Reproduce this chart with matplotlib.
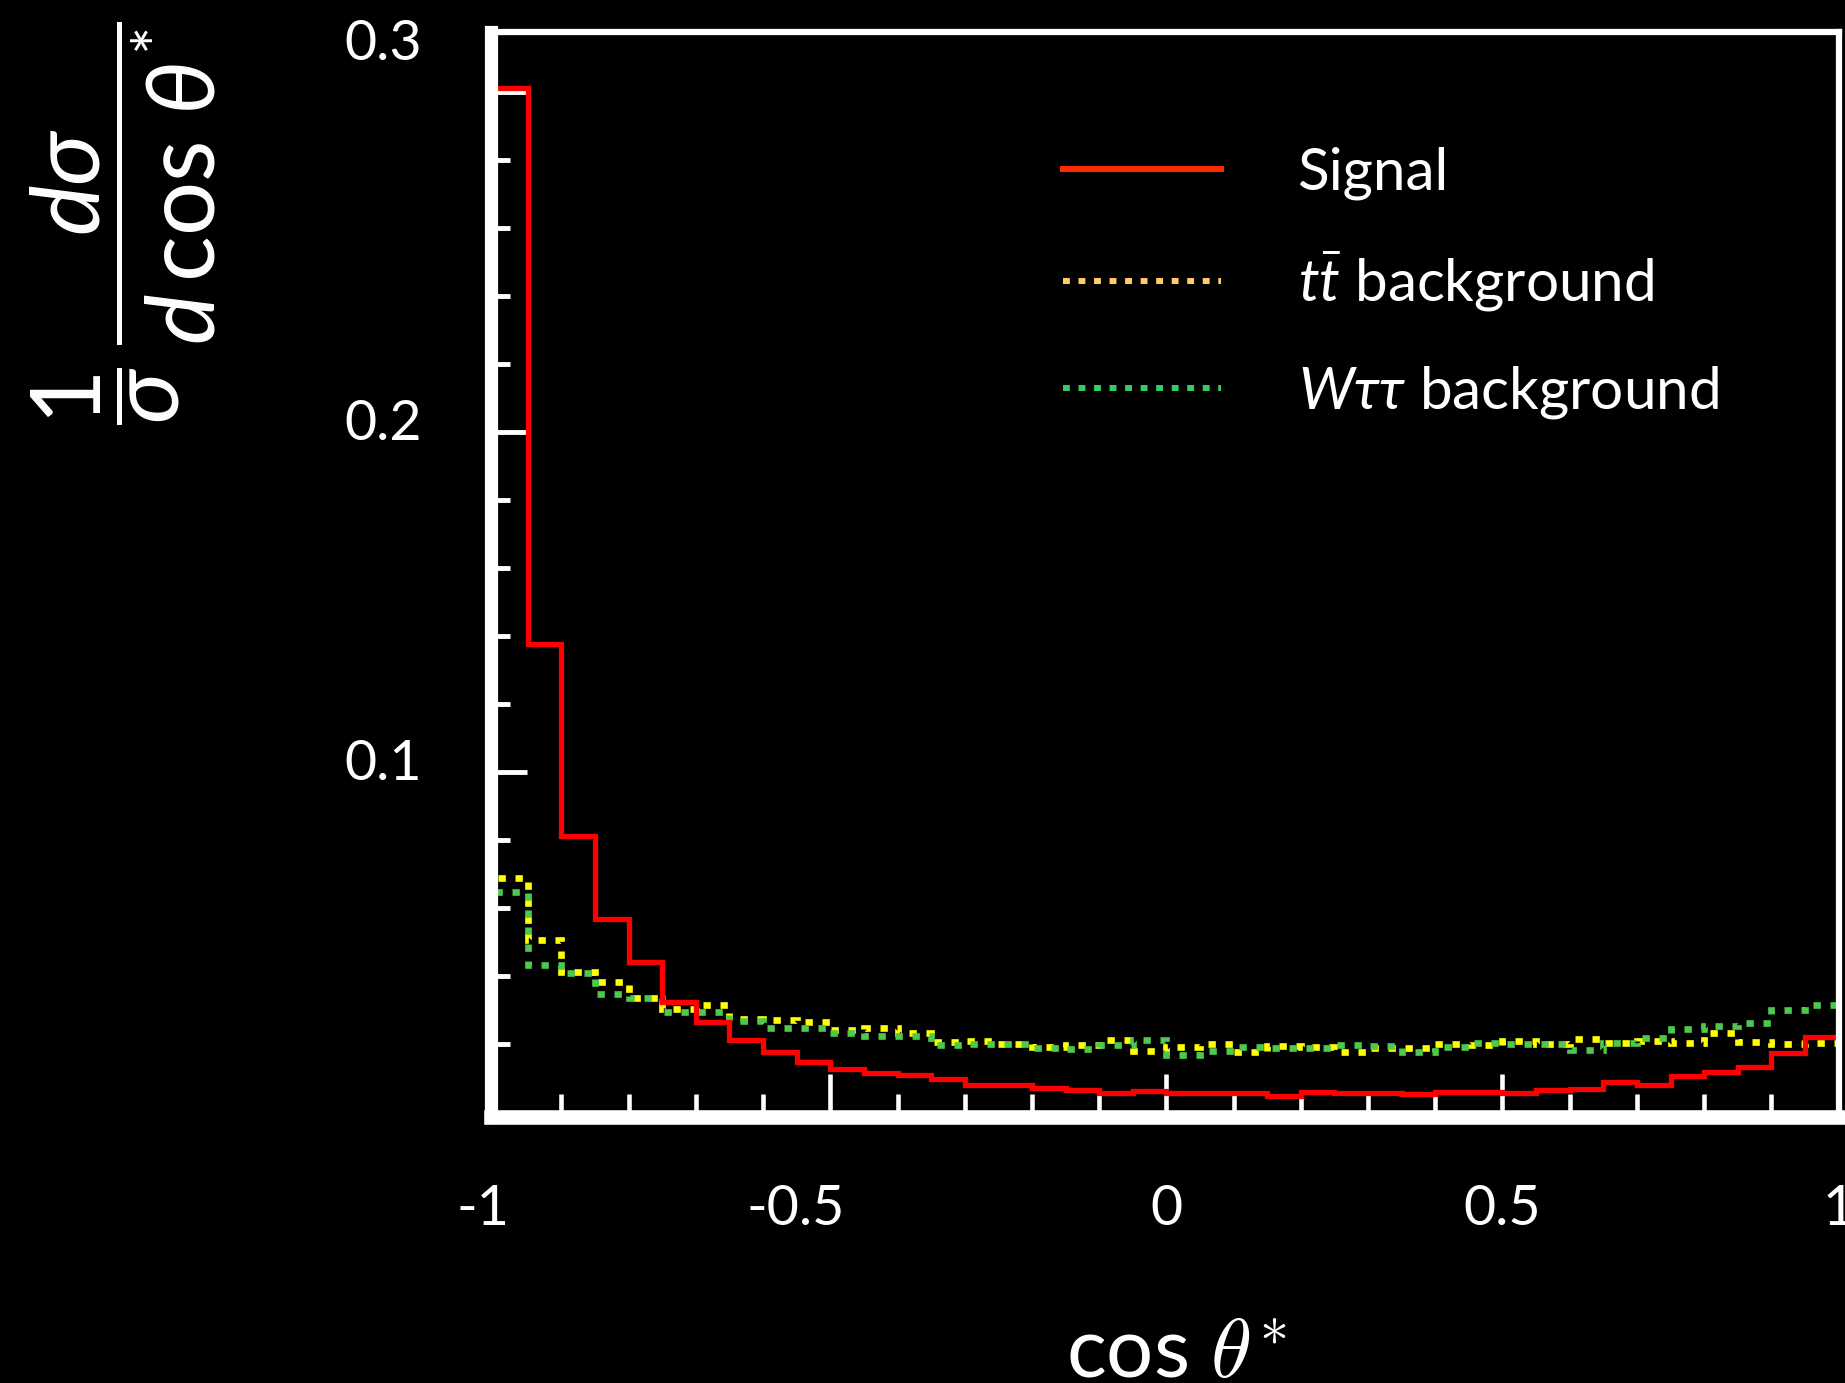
import numpy as np
import matplotlib
matplotlib.use("Agg")
import matplotlib.pyplot as plt
from matplotlib.lines import Line2D
from matplotlib.transforms import ScaledTranslation

plt.rcParams['font.family'] = ['Lato', 'DejaVu Sans']
plt.rcParams['mathtext.fontset'] = 'custom'
plt.rcParams['mathtext.rm'] = 'Lato'
plt.rcParams['mathtext.it'] = 'Lato:italic'
plt.rcParams['mathtext.bf'] = 'Lato:bold'
plt.rcParams['mathtext.sf'] = 'Lato'
plt.rcParams['axes.unicode_minus'] = False

# ---- data (normalised distributions, 40 bins of width 0.05 in cos theta*) ----
bin_edges = np.round(np.arange(-1.0, 1.0001, 0.05), 2)

signal = [0.301, 0.1376, 0.081, 0.0566, 0.0442, 0.0322, 0.0265, 0.0212, 0.0175, 0.0148,
          0.0125, 0.0113, 0.0109, 0.0097, 0.0079, 0.0078, 0.0071, 0.0063, 0.0055, 0.0060,
          0.0057, 0.0055, 0.0057, 0.0047, 0.0059, 0.0057, 0.0057, 0.0053, 0.0059, 0.0059,
          0.0057, 0.0065, 0.0067, 0.0087, 0.0079, 0.0107, 0.0117, 0.0133, 0.0174, 0.0221]

ttbar = [0.0687, 0.0506, 0.0410, 0.0383, 0.0334, 0.0302, 0.0315, 0.0273, 0.0271, 0.0263,
         0.0242, 0.0248, 0.0231, 0.0207, 0.0209, 0.0200, 0.0192, 0.0197, 0.0212, 0.0180,
         0.0192, 0.0200, 0.0177, 0.0195, 0.0192, 0.0177, 0.0187, 0.0189, 0.0199, 0.0196,
         0.0209, 0.0199, 0.0214, 0.0202, 0.0209, 0.0204, 0.0231, 0.0207, 0.0200, 0.0202]

wtautau = [0.0648, 0.0432, 0.0408, 0.0346, 0.0334, 0.0295, 0.0295, 0.0266, 0.0246, 0.0246,
           0.0231, 0.0224, 0.0224, 0.0197, 0.0200, 0.0200, 0.0189, 0.0184, 0.0197, 0.0210,
           0.0168, 0.0180, 0.0192, 0.0187, 0.0187, 0.0198, 0.0195, 0.0175, 0.0190, 0.0202,
           0.0201, 0.0201, 0.0182, 0.0202, 0.0217, 0.0243, 0.0253, 0.0261, 0.0300, 0.0315]

labels = ["Signal", r"$t\bar{t}$ background", r"$W\tau\tau$ background"]
xtick_vals = [-1, -0.5, 0, 0.5, 1]
xtick_labels = ["-1", "-0.5", "0", "0.5", "1"]
ytick_vals = [0.1, 0.2, 0.3]
ytick_labels = ["0.1", "0.2", ""]

# ---- figure ----
W, H = 1845, 1383
fig = plt.figure(figsize=(W / 100, H / 100), dpi=100, facecolor='black')
ax = fig.add_axes([491.5 / W, (H - 1117) / H, (1838.6 - 491.5) / W, (1117 - 32) / H])
ax.set_facecolor('black')

dot = (0, (1.1, 1.45))
ax.stairs(ttbar, bin_edges, color='#ffff00', lw=4.8, linestyle=dot, baseline=0, zorder=2.1)
ax.stairs(wtautau, bin_edges, color='#4dc94d', lw=4.8, linestyle=dot, baseline=0, zorder=2.2)
ax.stairs(signal, bin_edges, color='#ff0000', lw=3.8, baseline=0, zorder=2.3)

ax.set_xlim(-1.004, 1.0)
ax.set_ylim(-0.0015, 0.3176)

for side in ['left', 'right', 'top', 'bottom']:
    ax.spines[side].set_color('white')
    ax.spines[side].set_zorder(3)
ax.spines['left'].set_linewidth(9.5)
ax.spines['bottom'].set_linewidth(10.5)
ax.spines['top'].set_linewidth(4.5)
ax.spines['right'].set_linewidth(4.5)

ax.set_xticks(xtick_vals)
ax.set_xticklabels(xtick_labels)
ax.set_xticks(np.round(np.arange(-0.9, 1.0, 0.1), 2), minor=True)
ax.set_yticks(ytick_vals)
ax.set_yticklabels(ytick_labels)
ax.set_yticks(np.round(np.arange(0.02, 0.31, 0.02), 2), minor=True)

ax.tick_params(axis='x', which='major', direction='in', length=31, width=3.3,
               color='white', labelcolor='white', labelsize=40, pad=48.5)
ax.tick_params(axis='x', which='minor', direction='in', length=16.5, width=3.3, color='white')
ax.tick_params(axis='y', which='major', direction='in', length=26, width=3.5,
               color='white', labelcolor='white', labelsize=40, pad=50)
ax.tick_params(axis='y', which='minor', direction='in', length=14, width=3.5, color='white')
ax.tick_params(top=False, right=False, which='both')

off = ScaledTranslation(0, 12 / 100, fig.dpi_scale_trans)
for lab in ax.get_yticklabels():
    lab.set_transform(lab.get_transform() + off)
# shift of the negative x labels as in the reference
x_shift = {"-1": -11, "-0.5": -35}
for lab in ax.get_xticklabels():
    s = x_shift.get(lab.get_text(), 0)
    if s:
        lab.set_transform(lab.get_transform() + ScaledTranslation(s / 100, 0, fig.dpi_scale_trans))

fig.text(422 / W, 1 - 44 / H, "0.3", color='white', fontsize=40, ha='right', va='center')

# axis labels
fig.text(1176 / W, 5 / H, r"cos $\theta^{*}$", color='white', fontsize=60,
         ha='center', va='baseline', math_fontfamily='cm')
fig.text(123.5 / W, 1 - 223.5 / H,
         r"$\dfrac{1}{\sigma}\,\dfrac{d\sigma}{d\,\cos\,\theta^{*}}$",
         color='white', fontsize=69, rotation=90, ha='center', va='center')

# legend
handles = [Line2D([], [], color='#ff2a00', lw=4.3),
           Line2D([], [], color='#ffcc66', lw=4.3, linestyle=(0, (1.15, 1.45))),
           Line2D([], [], color='#33cc66', lw=4.3, linestyle=(0, (1.15, 1.45)))]
leg = fig.legend(handles, labels, loc='upper left', bbox_to_anchor=(1063 / W, 1 - 146 / H),
                 frameon=False, fontsize=42, handlelength=2.7, handletextpad=1.32,
                 labelspacing=0.86, borderpad=0, borderaxespad=0)
for t in leg.get_texts():
    t.set_color('white')

fig.savefig("out.png", dpi=100, facecolor='black')
